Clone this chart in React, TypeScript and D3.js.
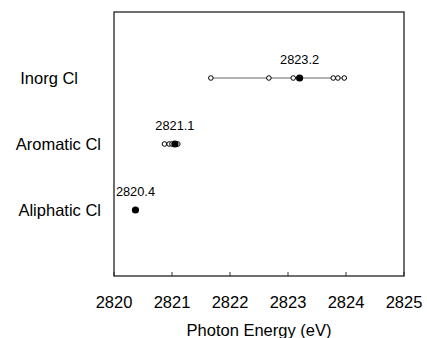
import React from 'react';
import * as d3 from 'd3';

// categories (top to bottom)
const categories = ['Inorg Cl', 'Aromatic Cl', 'Aliphatic Cl'];
// individual compound energies (open circles)
const inorgPoints = [2821.67, 2822.67, 2823.09, 2823.78, 2823.86, 2823.97];
const aromaticPoints = [2820.87, 2820.95, 2821.0, 2821.07, 2821.1];
const aliphaticPoints: number[] = [];
// averages (filled circles) and their labels
const averages = [2823.2, 2821.05, 2820.37];
const averageLabels = ['2823.2', '2821.1', '2820.4'];
const xTicks = [2820, 2821, 2822, 2823, 2824, 2825];

const W = 427;
const H = 338;
const margin = { top: 12, right: 23, bottom: 62, left: 114 };
const FONT = 'Arial, "Liberation Sans", sans-serif';
// small per-label horizontal nudges of category names
const labelRight = [78, 101, 101];

export default function App() {
  const innerW = W - margin.left - margin.right;
  const innerH = H - margin.top - margin.bottom;

  const x = d3.scaleLinear().domain([2820, 2825]).range([0, innerW]);
  const y = d3.scaleLinear().domain([0, 4]).range([0, innerH]);

  const series = [inorgPoints, aromaticPoints, aliphaticPoints];

  return (
    <svg
      width={W}
      height={H}
      style={{ position: 'absolute', left: 0, top: 0, background: '#fff' }}
      fontFamily={FONT}
    >
      <g transform={`translate(${margin.left},${margin.top})`}>
        {/* inside ticks on bottom axis */}
        {xTicks.map((t) => (
          <line key={t} x1={x(t)} x2={x(t)} y1={innerH} y2={innerH - 4} stroke="#333" strokeWidth={1} />
        ))}
        {xTicks.map((t) => (
          <text key={'l' + t} x={x(t)} y={innerH + 32} textAnchor="middle" fontSize={16.5} fill="#000">
            {t}
          </text>
        ))}
        <text x={innerW / 2} y={innerH + 60} textAnchor="middle" fontSize={16.5} fill="#000">
          Photon Energy (eV)
        </text>

        {series.map((pts, i) => {
          const cy = y(i + 1);
          const all = pts.concat([averages[i]]);
          const [lo, hi] = d3.extent(all) as [number, number];
          return (
            <g key={i}>
              {pts.length > 0 && (
                <line x1={x(lo)} x2={x(hi)} y1={cy} y2={cy} stroke="#666" strokeWidth={1} />
              )}
              {pts.map((p, j) => (
                <circle key={j} cx={x(p)} cy={cy} r={2.3} fill="#fff" stroke="#000" strokeWidth={1} />
              ))}
              <circle cx={x(averages[i])} cy={cy} r={3.6} fill="#000" />
              <text x={x(averages[i])} y={cy - 14} textAnchor="middle" fontSize={12.8} fill="#000">
                {averageLabels[i]}
              </text>
              <text
                x={labelRight[i] - margin.left}
                y={cy + 6}
                textAnchor="end"
                fontSize={16.5}
                fill="#000"
              >
                {categories[i]}
              </text>
            </g>
          );
        })}

        <rect x={0} y={0} width={innerW} height={innerH} fill="none" stroke="#222" strokeWidth={1.3} />
      </g>
    </svg>
  );
}
